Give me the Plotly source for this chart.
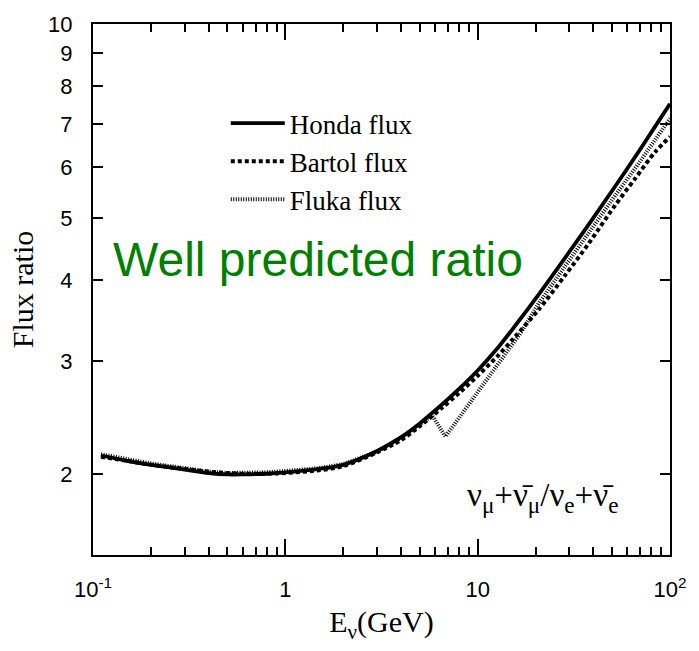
import plotly.graph_objects as go

# ---- data ----
honda_E = [0.11, 0.15, 0.2, 0.3, 0.4, 0.5, 0.6, 0.8, 1.0, 1.5, 2.0, 3.0, 4.0, 5.0, 6.5, 8.0,
           10.0, 12.8, 15.7, 20.7, 28.6, 37.6, 51.9, 65.9, 83.6, 100.0]
honda_R = [2.14, 2.10, 2.07, 2.035, 2.01, 2.00, 2.00, 2.005, 2.015, 2.04, 2.07, 2.175, 2.285, 2.40, 2.565, 2.715,
           2.90, 3.15, 3.405, 3.80, 4.345, 4.875, 5.60, 6.22, 6.93, 7.52]

bartol_E = [0.11, 0.15, 0.2, 0.3, 0.4, 0.5, 0.6, 0.8, 1.0, 1.5, 2.0, 3.0, 4.0, 5.0, 6.5, 8.0,
            10.0, 12.8, 15.7, 20.7, 28.6, 37.6, 51.9, 65.9, 83.6, 100.0]
bartol_R = [2.13, 2.10, 2.07, 2.04, 2.02, 2.01, 2.005, 2.005, 2.01, 2.03, 2.06, 2.164, 2.262, 2.376, 2.535, 2.675,
            2.845, 3.06, 3.275, 3.60, 4.08, 4.556, 5.234, 5.759, 6.329, 6.684]

fluka_E = [0.11, 0.15, 0.2, 0.3, 0.4, 0.5, 0.6, 0.8, 1.0, 1.5, 2.0, 3.0, 4.0, 5.0, 5.8, 6.8,
           16.9, 20.7, 28.6, 37.6, 51.9, 65.9, 83.6, 100.0]
fluka_R = [2.15, 2.11, 2.08, 2.045, 2.02, 2.01, 2.01, 2.015, 2.025, 2.045, 2.075, 2.17, 2.28, 2.39, 2.47, 2.29,
           3.33, 3.68, 4.22, 4.74, 5.42, 5.97, 6.61, 7.13]

x_tickvals = [0.1, 1, 10, 100]
x_ticktext = ["10<sup>-1</sup>", "1", "10", "10<sup>2</sup>"]
x_minor = [0.2, 0.3, 0.4, 0.5, 0.6, 0.7, 0.8, 0.9, 2, 3, 4, 5, 6, 7, 8, 9,
           20, 30, 40, 50, 60, 70, 80, 90]
y_tickvals = [2, 3, 4, 5, 6, 7, 8, 9, 10]
y_ticktext = [str(v) for v in y_tickvals]

SERIF = "Liberation Serif, Times New Roman, serif"
SANS = "Liberation Sans, Arial, sans-serif"

fig = go.Figure()
fig.add_trace(go.Scatter(x=honda_E, y=honda_R, mode="lines", name="Honda flux",
                         line=dict(color="black", width=3.8, shape="spline", smoothing=0.8)))
fig.add_trace(go.Scatter(x=bartol_E, y=bartol_R, mode="lines", name="Bartol flux",
                         line=dict(color="black", width=4, dash="4px,3px", shape="spline", smoothing=0.8)))
fig.add_trace(go.Scatter(x=fluka_E, y=fluka_R, mode="lines", name="Fluka flux",
                         line=dict(color="black", width=4, dash="1px,1.5px")))

fig.update_layout(
    width=699, height=651,
    margin=dict(l=93, r=28, t=17, b=96),
    paper_bgcolor="white", plot_bgcolor="white",
    showlegend=True,
    legend=dict(x=(226 - 93) / 578, y=(555 - 93) / 538, xanchor="left", yanchor="top",
                bgcolor="rgba(0,0,0,0)", font=dict(family=SERIF, size=27, color="black"),
                tracegroupgap=0, itemwidth=54),
    annotations=[
        dict(text="Well predicted ratio", x=(318 - 93) / 578, y=(555 - 256) / 538,
             xref="paper", yref="paper", showarrow=False, xanchor="center", yanchor="middle",
             font=dict(family=SANS, size=48, color="rgb(0,128,0)")),
        dict(text="ν<sub>μ</sub>+ν̄<sub>μ</sub>/ν<sub>e</sub>+ν̄<sub>e</sub>",
             x=(543 - 93) / 578, y=(555 - 497) / 538,
             xref="paper", yref="paper", showarrow=False, xanchor="center", yanchor="middle",
             font=dict(family=SERIF, size=33, color="black")),
    ],
)

fig.update_xaxes(
    type="log", range=[-1, 2],
    showline=True, linecolor="black", linewidth=2, mirror="ticks",
    showgrid=False, zeroline=False,
    ticks="inside", ticklen=16, tickwidth=1.5, tickcolor="black",
    tickvals=x_tickvals, ticktext=x_ticktext,
    tickfont=dict(family=SANS, size=22, color="black"),
    ticklabelstandoff=14,
    minor=dict(ticks="inside", ticklen=8, tickwidth=1.5, tickcolor="black", tickvals=x_minor),
    title=dict(text="E<sub>ν</sub>(GeV)", font=dict(family=SERIF, size=30, color="black"), standoff=10),
)
fig.update_yaxes(
    type="log", range=[0.176, 1],
    showline=True, linecolor="black", linewidth=2, mirror="ticks",
    showgrid=False, zeroline=False,
    ticks="inside", ticklen=10, tickwidth=1.5, tickcolor="black",
    tickvals=y_tickvals, ticktext=y_ticktext,
    tickfont=dict(family=SANS, size=22, color="black"),
    ticklabelstandoff=14,
    title=dict(text="Flux ratio", font=dict(family=SERIF, size=30, color="black"), standoff=6),
)

fig.write_html("out.html")
